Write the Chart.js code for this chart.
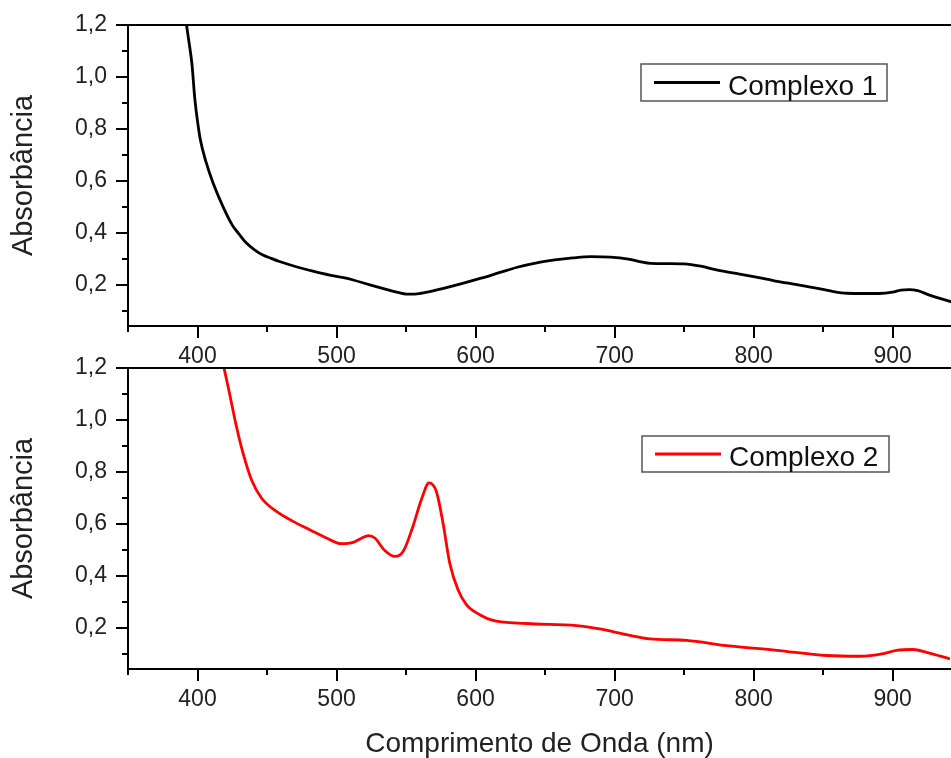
<!DOCTYPE html>
<html>
<head>
<meta charset="utf-8">
<script src="https://cdn.jsdelivr.net/npm/chart.js@4.4.1/dist/chart.umd.min.js"></script>
<style>
  html, body { margin: 0; padding: 0; background: #fff; width: 951px; height: 758px; overflow: hidden; }
  .panel { position: absolute; left: 0; width: 951px; }
</style>
</head>
<body>
<div class="panel" style="top:0;height:370px"><canvas id="c1" width="951" height="370"></canvas></div>
<div class="panel" style="top:343px;height:418px"><canvas id="c2" width="951" height="418"></canvas></div>
<script>
// espectros (nm / absorbância)
const wl1 = [391.8, 394, 396, 398, 400, 402, 406, 411, 418, 425, 430, 435, 441, 447, 453, 459, 471, 483, 495, 505, 512, 524, 537, 545, 550, 556, 561, 570, 577, 590, 604, 617, 630, 644, 657, 670, 683, 697, 710, 718, 726, 738, 750, 762, 774, 790, 800, 815, 830, 845, 856, 867, 880, 890, 900, 906, 912, 918, 926, 934, 943];
const abs1 = [1.21, 1.13, 1.05, 0.92, 0.83, 0.76, 0.675, 0.595, 0.505, 0.43, 0.395, 0.362, 0.335, 0.315, 0.302, 0.29, 0.27, 0.253, 0.238, 0.228, 0.219, 0.2, 0.181, 0.17, 0.165, 0.165, 0.168, 0.178, 0.187, 0.205, 0.226, 0.247, 0.268, 0.285, 0.296, 0.304, 0.309, 0.307, 0.299, 0.29, 0.283, 0.282, 0.281, 0.272, 0.257, 0.242, 0.232, 0.216, 0.202, 0.188, 0.176, 0.168, 0.167, 0.167, 0.172, 0.18, 0.182, 0.178, 0.162, 0.148, 0.134];

const wl2 = [418.7, 423, 428, 432.7, 438.8, 446, 456.8, 468.7, 480.7, 492.7, 503.5, 512, 518, 523, 527.5, 534.7, 542, 548, 555, 561, 566.6, 571.8, 576.6, 581.4, 587.4, 593.4, 603, 612.6, 636.6, 672.6, 689.4, 708.6, 725.3, 751.7, 780.5, 816.5, 852.5, 876.4, 893.2, 902.8, 914.7, 924.4, 941.2];
const abs2 = [1.21, 1.103, 0.975, 0.873, 0.77, 0.70, 0.648, 0.61, 0.578, 0.546, 0.524, 0.529, 0.545, 0.555, 0.546, 0.498, 0.475, 0.495, 0.591, 0.693, 0.758, 0.725, 0.604, 0.45, 0.347, 0.29, 0.251, 0.229, 0.217, 0.209, 0.196, 0.174, 0.158, 0.152, 0.132, 0.114, 0.094, 0.091, 0.101, 0.114, 0.117, 0.106, 0.081];

const xTickVals = [350, 400, 450, 500, 550, 600, 650, 700, 750, 800, 850, 900];
const yTickVals = [0.1, 0.2, 0.3, 0.4, 0.5, 0.6, 0.7, 0.8, 0.9, 1.0, 1.1, 1.2];

const FONT = "'Liberation Sans', Arial, sans-serif";
const isMajorX = v => v % 100 === 0;
const isMajorY = v => Math.round(v * 10) % 2 === 0;

// ticks maiores/menores, borda de cima e a legenda em caixa
const axisDeco = {
  id: 'axisDeco',
  afterDraw(chart, args, opts) {
    const { ctx, chartArea: a, scales: { x, y } } = chart;
    ctx.save();
    ctx.strokeStyle = '#000';
    ctx.lineWidth = 2;
    ctx.beginPath();
    xTickVals.forEach(v => {
      const px = Math.round(x.getPixelForValue(v));
      ctx.moveTo(px, a.bottom);
      ctx.lineTo(px, a.bottom + (isMajorX(v) ? 12 : 6));
    });
    yTickVals.forEach(v => {
      const py = Math.round(y.getPixelForValue(v));
      ctx.moveTo(a.left, py);
      ctx.lineTo(a.left - (isMajorY(v) ? 12 : 6), py);
    });
    ctx.moveTo(a.left - 1, a.top);
    ctx.lineTo(a.right, a.top);
    ctx.stroke();

    const ds = chart.data.datasets[0];
    const b = opts.box;
    ctx.lineWidth = 1.5;
    ctx.strokeStyle = '#555';
    ctx.strokeRect(b[0], b[1], b[2], b[3]);
    const cy = b[1] + b[3] / 2;
    ctx.strokeStyle = ds.borderColor;
    ctx.lineWidth = 2.8;
    ctx.beginPath();
    ctx.moveTo(b[0] + 13, cy);
    ctx.lineTo(b[0] + 79, cy);
    ctx.stroke();
    ctx.fillStyle = '#111';
    ctx.font = '28px ' + FONT;
    ctx.textBaseline = 'alphabetic';
    ctx.fillText(ds.label, b[0] + 87, b[1] + b[3] - 6);
    ctx.restore();
  }
};

function makeChart(id, label, wl, abs, color, box, xTitle, xHeight) {
  return new Chart(document.getElementById(id), {
    type: 'line',
    data: {
      datasets: [{
        label: label,
        data: wl.map((w, i) => ({ x: w, y: abs[i] })),
        borderColor: color,
        borderWidth: 2.8,
        pointRadius: 0,
        cubicInterpolationMode: 'monotone',
        fill: false
      }]
    },
    options: {
      responsive: false,
      animation: false,
      layout: { padding: { top: 25, left: 0, right: 0, bottom: 0 } },
      plugins: {
        legend: { display: false },
        tooltip: { enabled: false },
        axisDeco: { box: box }
      },
      scales: {
        x: {
          type: 'linear',
          min: 350,
          max: 942,
          afterBuildTicks: s => { s.ticks = xTickVals.map(v => ({ value: v })); },
          afterFit: s => { s.height = xHeight; s.paddingLeft = 0; s.paddingRight = 0; },
          grid: { display: false, drawTicks: false },
          border: { display: true, color: '#000', width: 2 },
          ticks: {
            autoSkip: false,
            maxRotation: 0,
            padding: 17,
            color: '#222',
            font: { family: FONT, size: 23 },
            callback: v => isMajorX(v) ? String(v) : ''
          },
          title: {
            display: !!xTitle,
            text: xTitle || '',
            color: '#222',
            font: { family: FONT, size: 28 },
            padding: { top: 0, bottom: 0 }
          }
        },
        y: {
          min: 0.042,
          max: 1.2,
          afterBuildTicks: s => { s.ticks = yTickVals.map(v => ({ value: v })); },
          afterFit: s => { s.width = 128; s.paddingTop = 0; s.paddingBottom = 0; },
          grid: { display: false, drawTicks: false },
          border: { display: true, color: '#000', width: 2 },
          ticks: {
            autoSkip: false,
            padding: 21,
            color: '#222',
            font: { family: FONT, size: 23 },
            callback: v => isMajorY(v) ? v.toFixed(1).replace('.', ',') : ''
          },
          title: {
            display: true,
            text: 'Absorbância',
            color: '#222',
            font: { family: FONT, size: 29 },
            padding: { top: 7, bottom: 0 }
          }
        }
      }
    },
    plugins: [axisDeco]
  });
}

makeChart('c1', 'Complexo 1', wl1, abs1, '#000000', [641, 64, 246, 37], null, 44);
makeChart('c2', 'Complexo 2', wl2, abs2, '#ff0000', [642, 93, 247, 36], 'Comprimento de Onda (nm)', 92);
</script>
</body>
</html>
